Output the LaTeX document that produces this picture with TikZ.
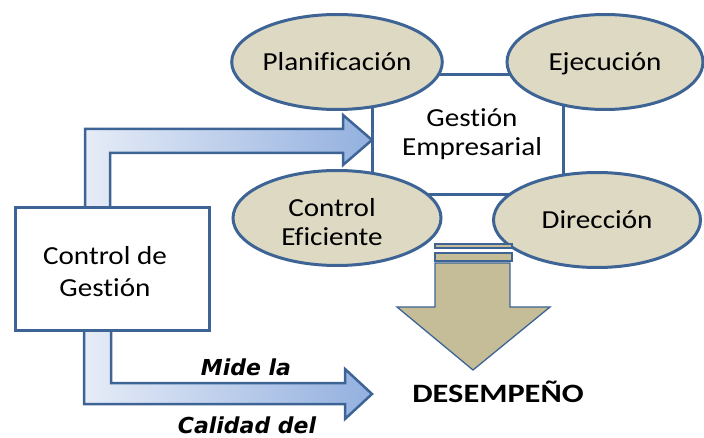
\documentclass[tikz,border=0pt]{standalone}
\usepackage{fontspec}
\setmainfont{Carlito}[FakeStretch=1.12, Ligatures=NoCommon]
\newfontfamily\desfont{Carlito}[FakeStretch=1.22, Ligatures=NoCommon]
\newfontfamily\gothic{DejaVu Sans}
\usetikzlibrary{shapes.geometric}
\definecolor{bord}{HTML}{3D6495}
\definecolor{tanfill}{HTML}{DDD9C3}
\definecolor{tandark}{HTML}{C4BD97}
\definecolor{arrL}{HTML}{E6ECF7}
\definecolor{arrR}{HTML}{93B0DF}
\begin{document}
\begin{tikzpicture}[x=1pt,y=-1pt,
  phase/.style={ellipse, draw=bord, line width=3pt, fill=tanfill, inner sep=0pt,
    minimum width=207pt, minimum height=95pt, font=\fontsize{26}{29}\selectfont, align=center},
  oneline/.style={text height=16.7pt, text depth=0pt},
  boxnode/.style={rectangle, draw=bord, line width=3pt, fill=white, inner sep=0pt},
  label/.style={font=\fontsize{26}{29}\selectfont, align=center, anchor=base, inner sep=0pt},
  bentarrow/.style={draw=bord, line width=2.5pt, line join=miter, left color=arrL, right color=arrR},
  downarrow/.style={draw=bord, line width=1.3pt, fill=tandark},
  slanted/.style={font=\gothic\bfseries\itshape\fontsize{22}{26}\selectfont, anchor=base, inner sep=0pt}
]
\useasboundingbox (0,0) rectangle (704,438);

% central rectangle
\node[boxnode, minimum width=191pt, minimum height=120pt] (ge) at (467.5,135) {};
\node[label] (getext) at (472,156) {Gestión\\Empresarial};

% ellipses
\node[phase, oneline, minimum width=207pt] (plan) at (337,62) {Planificación};
\node[phase, oneline, minimum width=196pt] (ejec) at (605,62) {Ejecución};
\node[phase, minimum width=208pt] (ctrl) at (337,218) {};
\node[label] (ctrltext) at (332,246) {Control\\Eficiente};
\node[phase, oneline, minimum width=207pt] (dir) at (597,220) {Dirección};

% bent arrows
\draw[bentarrow] (85,210) -- (85,129) -- (343,129) -- (343,115) -- (372,140) -- (343,165)
  -- (343,153) -- (110,153) -- (110,210) -- cycle;
\draw[bentarrow] (84,328) -- (84,404) -- (345,404) -- (345,419) -- (372,394) -- (345,369)
  -- (345,383) -- (111,383) -- (111,328) -- cycle;

% control de gestion box
\node[boxnode, minimum width=194pt, minimum height=122pt] (cg) at (112,269) {};
\node[label, font=\fontsize{26}{32}\selectfont] (cgtext) at (105,297) {Control de\\Gestión};

% down arrow
\draw[downarrow] (435,244) rectangle (512,248);
\draw[downarrow] (435,253) rectangle (512,261);
\draw[downarrow] (435,263) -- (510,263) -- (510,307) -- (550,307) -- (473,370) -- (397,307)
  -- (435,307) -- cycle;

% texts
\node[font=\desfont\bfseries\fontsize{26.5}{30}\selectfont, anchor=base, inner sep=0pt] (des) at (498,402) {DESEMPEÑO};
\node[slanted] (mide) at (246,375) {Mide la};
\node[slanted] (cal) at (247,433) {Calidad del};
\end{tikzpicture}
\end{document}
